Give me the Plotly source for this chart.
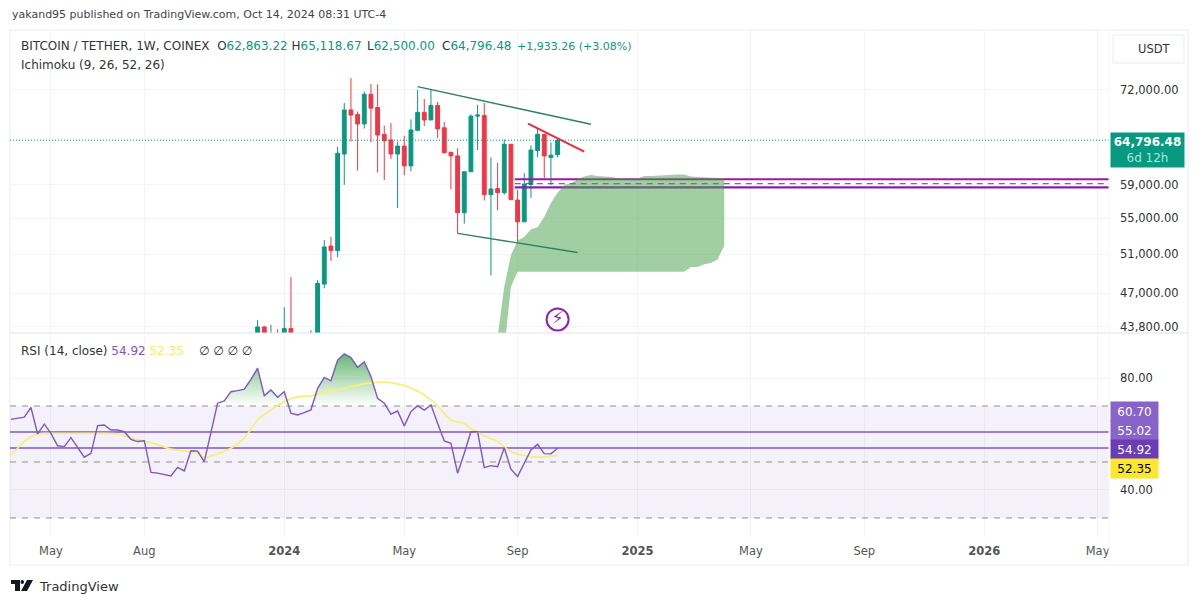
import plotly.graph_objects as go
import pandas as pd

# ---------- data ----------
c_open = [41000,43800,41300,43000,42300,43650,41700,41600,42100,43000,47920,51900,51400,62950,69040,68400,67050,71350,69400,65600,64830,62950,64000,61400,66150,68700,67600,69700,66500,63150,62700,55650,60650,68150,68250,57800,58550,58050,64250,57160,54600,59050,63400,65600,62500,62863.22]
c_high = [44430,43900,44000,43600,45650,48620,43000,42800,43500,48320,52550,52900,63900,70050,73800,68800,71750,72900,72850,66800,67200,64600,65400,67700,72000,70650,72000,70200,67300,63300,63700,60650,68400,69800,70050,62500,61800,64900,64250,58370,60450,64100,66400,65600,64500,65118.67]
c_low  = [40000,41000,40500,41500,40800,41500,41000,38500,41900,42500,47500,50300,50700,59000,64600,60800,66400,64500,60550,59600,62300,56200,60200,60700,66150,66750,67600,65100,63100,58450,53300,54400,60650,63480,57100,48800,55950,57800,57200,52350,54600,57400,62500,59800,59000,62500]
c_close= [43800,41300,43000,42300,43650,41700,41600,42100,43000,48000,51800,51400,63040,69040,68300,67050,71350,69300,65500,64700,62950,64000,61400,66200,68690,67600,69700,66350,63100,62700,55650,60650,68150,68300,57800,58500,58050,64250,57200,54600,59100,63480,65600,62700,62800,64796.48]

cloud_dates = ["2024-08-12","2024-08-19","2024-08-26","2024-09-02","2024-09-09","2024-09-16","2024-09-23","2024-09-30","2024-10-07","2024-10-14","2024-10-21","2024-10-28","2024-11-04","2024-11-11","2024-11-18","2024-11-25","2024-12-02","2024-12-09","2024-12-16","2024-12-23","2024-12-30","2025-01-06","2025-01-13","2025-01-20","2025-01-27","2025-02-03","2025-02-10","2025-02-17","2025-02-24","2025-03-03","2025-03-10","2025-03-17","2025-03-24","2025-03-31","2025-04-07"]
cloud_upper = [42900,47650,50900,52500,52900,53750,54000,55200,56800,58050,59000,59200,59700,60050,60250,60100,60050,60000,59850,59800,59800,59800,60100,60100,60150,60250,60300,60300,60300,60050,60000,59950,59850,59850,59850]
cloud_lower = [38000,41800,47650,49170,49170,49170,49170,49170,49170,49170,49170,49170,49170,49170,49170,49170,49170,49170,49170,49170,49170,49170,49170,49170,49170,49170,49170,49170,49170,49680,49680,49950,50100,50460,51950]

rsi_start = "2023-03-20"
rsi_values = [65.2,65.6,66.0,69.5,60.0,63.5,60.2,55.8,55.5,58.7,55.1,51.7,53.1,63.0,63.2,61.4,61.4,60.8,58.1,57.3,57.6,46.3,46.0,45.4,45.0,48.1,46.8,54.0,53.9,50.1,60.8,71.0,71.8,75.1,75.5,76.0,79.5,83.5,73.7,75.7,73.1,75.1,67.4,66.8,67.6,68.6,
              76.3,80.2,79.0,86.4,88.6,87.3,83.8,85.8,80.5,72.7,71.0,67.1,68.2,62.9,68.0,70.1,68.5,70.4,63.8,57.5,56.7,46.0,53.1,60.8,60.8,48.0,48.7,48.3,55.1,47.4,44.8,49.5,54.3,56.3,53.0,52.9,54.92]
rsi_ma_dates = ["2023-03-20","2023-03-27","2023-04-03","2023-04-10","2023-04-17","2023-04-24","2023-05-08","2023-05-29","2023-06-19","2023-07-10","2023-07-24","2023-08-07","2023-08-21","2023-09-04","2023-09-18","2023-10-02","2023-10-09","2023-10-23","2023-11-06","2023-11-20","2023-12-04","2023-12-18","2024-01-01","2024-01-15","2024-01-29","2024-02-12","2024-03-04","2024-03-18","2024-04-01","2024-04-15","2024-04-29","2024-05-13","2024-05-27","2024-06-10","2024-06-24","2024-07-08","2024-07-15","2024-07-29","2024-08-12","2024-08-26","2024-09-09","2024-09-23","2024-10-14"]
rsi_ma = [52.5,54.9,57.3,59.0,59.9,60.2,60.2,60.2,60.2,60.0,58.5,57.5,56.1,54.6,54.0,52.9,51.7,52.9,54.9,58.5,65.0,68.6,71.5,73.3,73.6,75.0,76.3,77.5,78.3,78.5,77.9,76.5,73.9,70.1,65.0,63.8,62.0,59.3,57.3,53.7,52.3,51.7,52.35]

price_ticks = [72000,59000,55000,51000,47000,43800]
rsi_ticks = [80,40]
time_ticks = ["2023-05-01","2023-08-07","2024-01-01","2024-05-06","2024-09-02","2025-01-06","2025-05-05","2025-09-01","2026-01-05","2026-05-04"]
time_labels = ["May","Aug","<b>2024</b>","May","Sep","<b>2025</b>","May","Sep","<b>2026</b>","May"]

last_price = 64796.48
upper_trend_d, upper_trend_p = ["2024-05-20","2024-11-18"], [72500,67000]
lower_trend_d, lower_trend_p = ["2024-07-01","2024-11-04"], [53300,51200]
red_trend_d, red_trend_p = ["2024-09-13","2024-11-11"], [67100,63250]
zone_start, x_end = "2024-08-30", "2026-05-16"
x_start = "2023-03-19"
zone_top, zone_mid, zone_bot = 59700, 59150, 58700
rsi_lines = [60.70, 55.02]
rsi_levels = [70, 50, 30]

# ---------- style ----------
GREEN, RED = "#089981", "#F23645"
PURPLE = "#7E57C2"
GRID = "#F3F4F6"
FONT = "DejaVu Sans"
W, H = 1200, 605
L, R, T, B = 10, 1109, 30, 537
def px(x): return (x - L) / (R - L)
def py(y): return (B - y) / (B - T)

weeks = pd.date_range(end="2024-10-14", periods=len(c_open), freq="7D")
rsi_weeks = pd.date_range(rsi_start, periods=len(rsi_values), freq="7D")

fig = go.Figure()
ln = lambda x, y, c, w, dash="solid", ax="y": go.Scatter(x=x, y=y, mode="lines", line=dict(color=c, width=w, dash=dash),
                                                         yaxis=ax, xaxis="x" if ax == "y" else "x2", hoverinfo="skip", showlegend=False)
fig.add_trace(ln([x_start, x_end], [last_price]*2, GREEN, 1, "1px,2px"))
fig.add_trace(ln([zone_start, x_end], [zone_top]*2, "#A512A8", 2))
fig.add_trace(ln([zone_start, x_end], [zone_mid]*2, "#5A4A60", 1, "6px,5px"))
fig.add_trace(ln([zone_start, x_end], [zone_bot]*2, "#8A1FA6", 2.2))

fig.add_trace(go.Scatter(x=cloud_dates, y=cloud_lower, mode="lines", line=dict(width=0), showlegend=False, hoverinfo="skip"))
fig.add_trace(go.Scatter(x=cloud_dates, y=cloud_upper, mode="lines", line=dict(width=0), fill="tonexty",
                         fillcolor="rgba(67,160,71,0.5)", showlegend=False, hoverinfo="skip"))

fig.add_trace(go.Candlestick(x=weeks, open=c_open, high=c_high, low=c_low, close=c_close,
                             increasing=dict(line=dict(color=GREEN, width=1), fillcolor=GREEN),
                             decreasing=dict(line=dict(color=RED, width=1), fillcolor=RED),
                             whiskerwidth=0, showlegend=False, xaxis="x", yaxis="y"))

fig.add_trace(ln(upper_trend_d, upper_trend_p, "#2F7F62", 1.4))
fig.add_trace(ln(lower_trend_d, lower_trend_p, "#2F7F62", 1.4))
fig.add_trace(ln(red_trend_d, red_trend_p, "#F0283F", 2))

fig.add_trace(go.Scatter(x=["2024-10-14"], y=[44500], mode="markers+text", text=["⚡"], textposition="middle center",
                         textfont=dict(color="#8E24AA", size=18, family=FONT),
                         marker=dict(symbol="circle-open", size=22, color="#8E24AA", line=dict(width=2, color="#8E24AA")),
                         showlegend=False, hoverinfo="skip"))

# RSI pane
fig.add_trace(ln([x_start, x_end], [rsi_levels[2]]*2, "rgba(0,0,0,0)", 0, ax="y2"))
fig.add_trace(go.Scatter(x=[x_start, x_end], y=[rsi_levels[0]]*2, mode="lines", line=dict(width=0), fill="tonexty",
                         fillcolor="rgba(126,87,194,0.085)", xaxis="x2", yaxis="y2", showlegend=False, hoverinfo="skip"))
for lev in rsi_levels:
    fig.add_trace(ln([x_start, x_end], [lev]*2, "#909090", 1, "6px,6px", ax="y2"))
for lev in rsi_lines:
    fig.add_trace(ln([x_start, x_end], [lev]*2, PURPLE, 1.6, ax="y2"))

fig.add_trace(ln(list(rsi_weeks), [rsi_levels[0]]*len(rsi_values), "rgba(0,0,0,0)", 0, ax="y2"))
fig.add_trace(go.Scatter(x=list(rsi_weeks), y=[max(v, rsi_levels[0]) for v in rsi_values], mode="lines", line=dict(width=0),
                         fill="tonexty", xaxis="x2", yaxis="y2", showlegend=False, hoverinfo="skip",
                         fillgradient=dict(type="vertical", start=70, stop=90,
                                           colorscale=[[0, "rgba(76,175,80,0)"], [1, "rgba(60,160,80,0.85)"]])))
fig.add_trace(go.Scatter(x=rsi_ma_dates, y=rsi_ma, mode="lines", line=dict(color="#F5F07A", width=1.8, shape="spline"),
                         xaxis="x2", yaxis="y2", showlegend=False, hoverinfo="skip"))
fig.add_trace(ln(list(rsi_weeks), rsi_values, PURPLE, 1.4, ax="y2"))

def note(text, x, y, size=12, color="#333333", xa="left", ya="middle", **kw):
    return dict(text=text, x=px(x), y=py(y), xref="paper", yref="paper", xanchor=xa, yanchor=ya, showarrow=False,
                font=dict(family=FONT, size=size, color=color), **kw)

g = lambda s: f'<span style="color:{GREEN}">{s}</span>'
annos = [
    note("yakand95 published on TradingView.com, Oct 14, 2024 08:31 UTC-4", 10, 14, 11, "#444444"),
    note("BITCOIN / TETHER, 1W, COINEX  O" + g("62,863.22") + " H" + g("65,118.67"), 19, 46, 12),
    note("L" + g("62,500.00"), 365, 46, 12),
    note("C" + g("64,796.48"), 440, 46, 12),
    note(g("+1,933.26 (+3.08%)"), 515, 46, 11),
    note("Ichimoku (9, 26, 52, 26)", 19, 65, 12),
    note('RSI (14, close) <span style="color:#7E57C2">54.92</span> <span style="color:#F5EE60">52.35</span>', 19, 351, 12),
    note("∅ ∅ ∅ ∅", 197, 351, 12),
    note("USDT", 1136, 49, 11.5),
    note("TradingView", 37, 586, 13, "#333333"),
]
for txt, y0, bg, fc in [("60.70", 411, "#8864C8", "white"), ("55.02", 430, "#8864C8", "white"),
                        ("54.92", 449, "#6A3DB4", "white"), ("52.35", 468, "#FBE82E", "black")]:
    annos.append(note(txt, 1110, y0, 12, fc, bgcolor=bg, width=47, height=19, borderpad=0, align="center"))
annos.append(note(f"<b>{last_price:,.2f}</b><br><span style='color:#A5E8D5'>6d 12h</span>", 1110, 149.5, 12, "white",
                  bgcolor=GREEN, width=73, height=34, borderpad=0, align="center"))

def pshape(x0, y0, x1, y1, **kw):
    return dict(type="rect", xref="paper", yref="paper", x0=px(x0), x1=px(x1), y0=py(y0), y1=py(y1), layer="below", **kw)
shapes = [
    pshape(10, 30, 1188, 565, line=dict(color="#F0F2F5", width=1.5)),
    dict(type="line", xref="paper", yref="paper", x0=px(10), x1=px(1188), y0=py(333), y1=py(333), line=dict(color="#E0E3EB", width=1)),
    dict(type="line", xref="paper", yref="paper", x0=px(1109), x1=px(1109), y0=py(30), y1=py(565), line=dict(color="#F5F6F8", width=1)),
    dict(type="path", xref="paper", yref="paper", line=dict(width=0), fillcolor="white", layer="below",
         path=f"M {px(1117)} {py(35)} L {px(1180)} {py(35)} Q {px(1184)} {py(35)} {px(1184)} {py(39)} L {px(1184)} {py(59)} Q {px(1184)} {py(63)} {px(1180)} {py(63)} L {px(1117)} {py(63)} Q {px(1113)} {py(63)} {px(1113)} {py(59)} L {px(1113)} {py(39)} Q {px(1113)} {py(35)} {px(1117)} {py(35)} Z"),
    pshape(1113, 35, 1184, 63, line=dict(color="#F0F2F5", width=1.5)),
    # TradingView logo
    dict(type="path", xref="paper", yref="paper", fillcolor="#131722", line=dict(width=0),
         path=f"M {px(11)} {py(580)} L {px(20)} {py(580)} L {px(20)} {py(591)} L {px(15)} {py(591)} L {px(15)} {py(584)} L {px(11)} {py(584)} Z"),
    dict(type="circle", xref="paper", yref="paper", fillcolor="#131722", line=dict(width=0),
         x0=px(20.5), x1=px(24), y0=py(580), y1=py(584)),
    dict(type="path", xref="paper", yref="paper", fillcolor="#131722", line=dict(width=0),
         path=f"M {px(27)} {py(580)} L {px(33)} {py(580)} L {px(27)} {py(591)} L {px(21)} {py(591)} Z"),
]

axis_common = dict(showline=False, zeroline=False, ticks="", gridcolor=GRID, gridwidth=1, showgrid=True)
price_h = (B - 333) / (B - T)
fig.update_layout(
    width=W, height=H, margin=dict(l=L, r=W - R, t=T, b=H - B), paper_bgcolor="white", plot_bgcolor="white",
    showlegend=False, hovermode=False, boxgap=0.18, font=dict(family=FONT, size=12, color="#333333"), annotations=annos, shapes=shapes,
    xaxis=dict(domain=[0, 1], range=[x_start, x_end], type="date", anchor="y", tickvals=time_ticks, ticktext=[""]*len(time_ticks),
               rangeslider=dict(visible=False), **axis_common),
    xaxis2=dict(domain=[0, 1], range=[x_start, x_end], type="date", anchor="y2", matches="x", tickvals=time_ticks, ticktext=time_labels,
                tickfont=dict(family=FONT, size=11.5, color="#555555"), ticklabelstandoff=5, **axis_common),
    yaxis=dict(domain=[price_h, 1], type="log", range=[4.6360, 4.9119], side="right", anchor="x", tickvals=price_ticks,
               tickformat=",.2f", tickfont=dict(family=FONT, size=11.5, color="#333333"), ticklabelstandoff=10, **axis_common),
    yaxis2=dict(domain=[0, (B - 335) / (B - T)], range=[23.2, 95.36], side="right", anchor="x2", tickvals=rsi_ticks,
                tickformat=".2f", tickfont=dict(family=FONT, size=11.5, color="#333333"), ticklabelstandoff=10, **axis_common),
)
fig.write_html("out.html", config={"displayModeBar": False}, post_script="document.body.style.margin='0';")
